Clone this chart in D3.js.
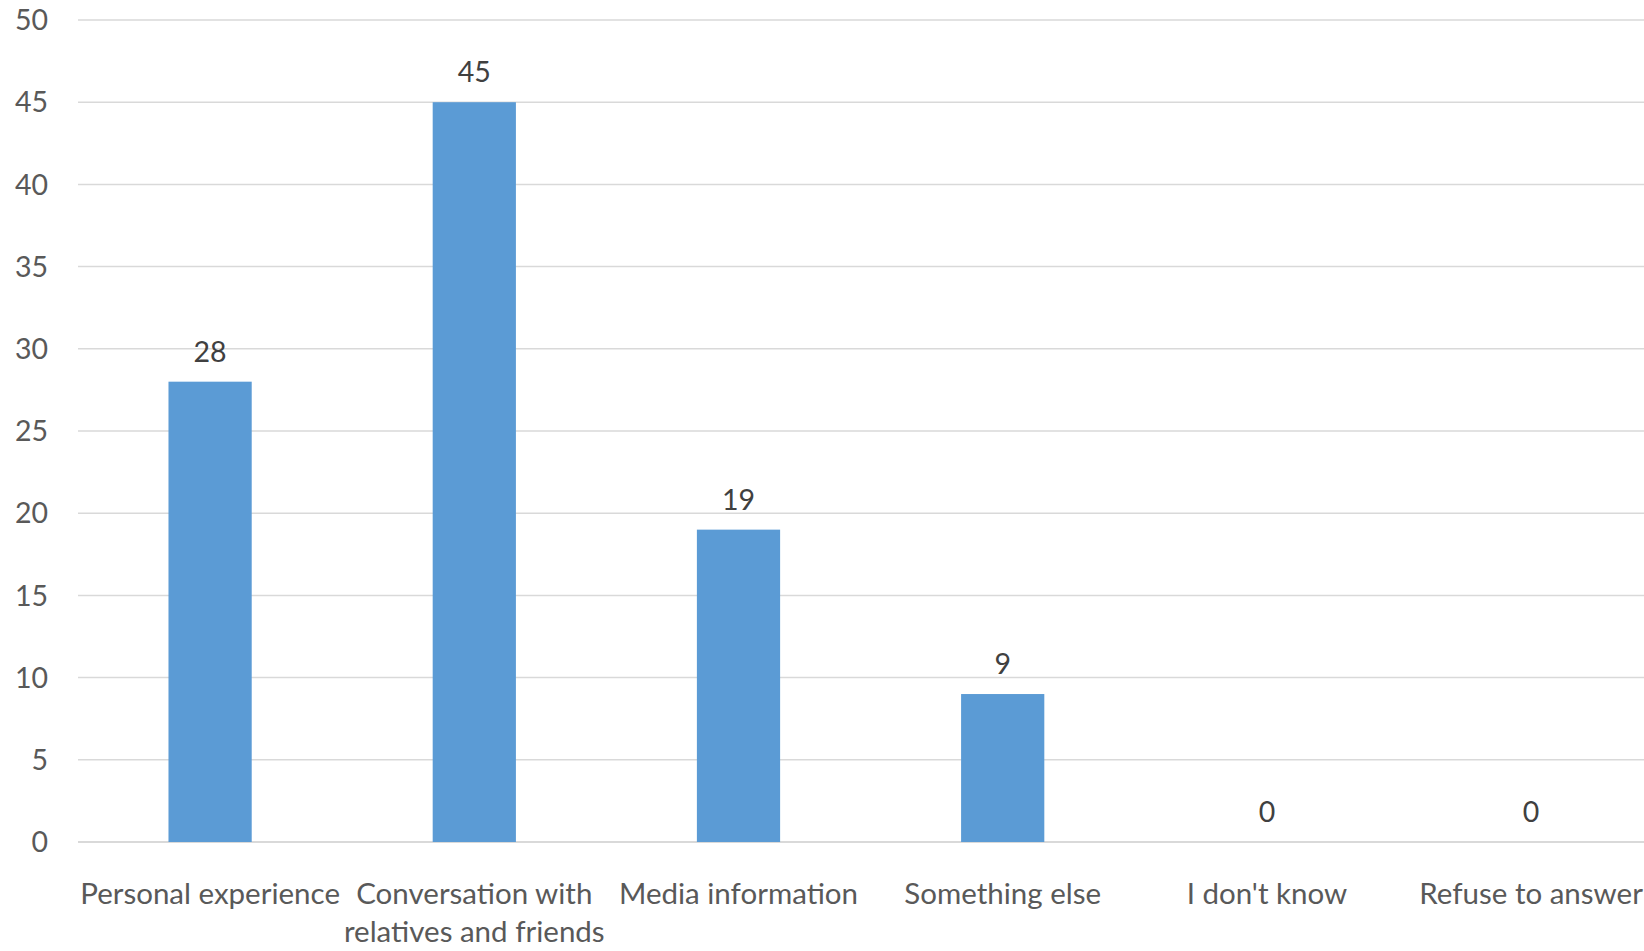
<!DOCTYPE html>
<html><head><meta charset="utf-8">
<script src="https://cdn.jsdelivr.net/npm/d3@7"></script>
<style>html,body{margin:0;padding:0;background:#fff;overflow:hidden}</style>
</head><body>
<svg id="chart" width="1644" height="951"></svg>
<script>
const categories = ["Personal experience", "Conversation with relatives and friends", "Media information", "Something else", "I don't know", "Refuse to answer"];
const categoryLines = [["Personal experience"], ["Conversation with", "relatives and friends"], ["Media information"], ["Something else"], ["I don't know"], ["Refuse to answer"]];
const values = [28, 45, 19, 9, 0, 0];
const yTicks = [0, 5, 10, 15, 20, 25, 30, 35, 40, 45, 50];

(function () {
const svg = d3.select("#chart");
const font = "Lato, 'Open Sans', sans-serif";
const plotLeft = 78, step = 264.2, plotTop = 20, plotBottom = 842;

const x = d3.scaleBand().domain(categories).range([plotLeft, plotLeft + step * categories.length]).padding(0);
const y = d3.scaleLinear().domain([0, 50]).range([plotBottom, plotTop]);
const barW = x.bandwidth() * 0.315;

// gridlines
svg.append("g").selectAll("line").data(yTicks).join("line")
  .attr("x1", plotLeft).attr("x2", 1644)
  .attr("y1", d => y(d)).attr("y2", d => y(d))
  .attr("stroke", "#d9d9d9").attr("stroke-width", d => d === 0 ? 2 : 1.5);

// y tick labels
svg.append("g").selectAll("text").data(yTicks).join("text")
  .attr("x", 48).attr("y", d => y(d)).attr("dy", "0.36em")
  .attr("text-anchor", "end").attr("font-family", font).attr("font-size", 28.5)
  .attr("fill", "#595959").text(d => d);

// bars
svg.append("g").selectAll("rect").data(values).join("rect")
  .attr("x", (d, i) => x(categories[i]) + x.bandwidth() / 2 - barW / 2)
  .attr("width", barW)
  .attr("y", d => y(d)).attr("height", d => y(0) - y(d))
  .attr("fill", "#5b9bd5");

// value labels
svg.append("g").selectAll("text").data(values).join("text")
  .attr("x", (d, i) => x(categories[i]) + x.bandwidth() / 2)
  .attr("y", d => y(d) - 20)
  .attr("text-anchor", "middle").attr("font-family", font).attr("font-size", 28.5)
  .attr("fill", "#404040").text(d => d);

// category labels
const cat = svg.append("g").selectAll("text").data(categoryLines).join("text")
  .attr("text-anchor", "middle").attr("font-family", font).attr("font-size", 29.5)
  .attr("fill", "#595959");
cat.each(function(lines, i) {
  const cx = x(categories[i]) + x.bandwidth() / 2;
  d3.select(this).selectAll("tspan").data(lines).join("tspan")
    .attr("x", cx).attr("y", (d, j) => 904 + j * 38).text(d => d);
});
})();
</script>
</body></html>
